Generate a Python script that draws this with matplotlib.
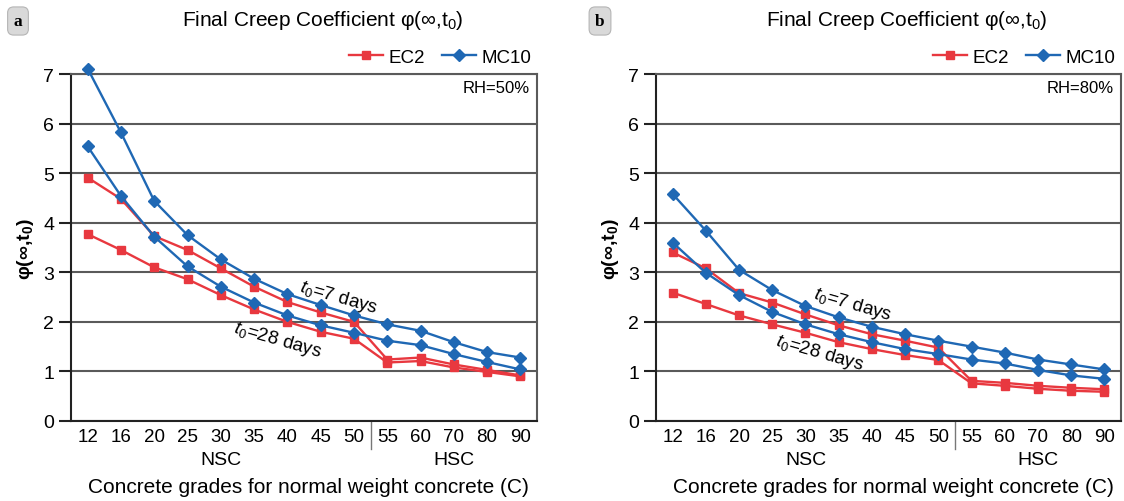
import numpy as np
import matplotlib
matplotlib.use("Agg")
import matplotlib.pyplot as plt

plt.rcParams["font.family"] = ["Liberation Sans", "DejaVu Sans"]
plt.rcParams["mathtext.fontset"] = "custom"
plt.rcParams["mathtext.rm"] = "Liberation Sans"
plt.rcParams["mathtext.it"] = "Liberation Sans:italic"

# Classes de concreto
grades = ["12", "16", "20", "25", "30", "35", "40", "45", "50", "55", "60", "70", "80", "90"]

# RH = 50%
ec2_50_t7 = [4.91, 4.48, 3.73, 3.45, 3.08, 2.71, 2.40, 2.19, 2.00, 1.24, 1.28, 1.14, 1.03, 0.92]
ec2_50_t28 = [3.77, 3.45, 3.10, 2.86, 2.54, 2.25, 2.00, 1.80, 1.66, 1.18, 1.21, 1.08, 0.99, 0.90]
mc10_50_t7 = [7.11, 5.82, 4.44, 3.75, 3.26, 2.87, 2.56, 2.34, 2.13, 1.95, 1.82, 1.59, 1.39, 1.28]
mc10_50_t28 = [5.54, 4.54, 3.72, 3.12, 2.71, 2.39, 2.13, 1.93, 1.78, 1.62, 1.53, 1.35, 1.19, 1.04]

# RH = 80%
ec2_80_t7 = [3.40, 3.08, 2.58, 2.39, 2.15, 1.93, 1.75, 1.62, 1.48, 0.81, 0.77, 0.71, 0.67, 0.64]
ec2_80_t28 = [2.59, 2.36, 2.13, 1.95, 1.78, 1.59, 1.45, 1.33, 1.23, 0.76, 0.71, 0.65, 0.61, 0.59]
mc10_80_t7 = [4.58, 3.84, 3.05, 2.64, 2.32, 2.09, 1.90, 1.75, 1.62, 1.50, 1.38, 1.24, 1.14, 1.04]
mc10_80_t28 = [3.60, 2.99, 2.54, 2.20, 1.95, 1.75, 1.59, 1.45, 1.35, 1.24, 1.16, 1.03, 0.92, 0.85]

RED = "#e8383f"
BLUE = "#1f68b4"
GRID = "#5a5a5a"

fig = plt.figure(figsize=(11.24, 5.02), dpi=100)
ax_a = fig.add_axes([71 / 1124, 80 / 502, 466 / 1124, 347 / 502])
ax_b = fig.add_axes([656 / 1124, 80 / 502, 465 / 1124, 347 / 502])


def painel(ax, ec_t7, ec_t28, mc_t7, mc_t28, rh, pos7, pos28):
    x = np.arange(len(grades))
    estilo_ec = dict(color=RED, lw=1.7, marker="s", ms=6.2, clip_on=False, zorder=3)
    estilo_mc = dict(color=BLUE, lw=1.7, marker="D", ms=6.5, clip_on=False, zorder=4)
    ax.plot(x, ec_t7, label="EC2", **estilo_ec)
    ax.plot(x, ec_t28, **estilo_ec)
    ax.plot(x, mc_t7, label="MC10", **estilo_mc)
    ax.plot(x, mc_t28, **estilo_mc)

    ax.set_xlim(-0.5, len(grades) - 0.5)
    ax.set_ylim(0, 7)
    ax.set_yticks(range(8))
    ax.set_xticks(x)
    ax.set_xticklabels(grades)
    ax.tick_params(axis="x", length=0, labelsize=13.5, pad=5)
    ax.tick_params(axis="y", length=9, width=1.5, labelsize=14, pad=3, color="#222222")
    ax.yaxis.grid(True, color=GRID, lw=1.5)
    ax.set_axisbelow(True)
    for s in ["left", "bottom"]:
        ax.spines[s].set_color("#222222")
        ax.spines[s].set_linewidth(1.5)
    for s in ["top", "right"]:
        ax.spines[s].set_color(GRID)
        ax.spines[s].set_linewidth(1.5)

    # separador NSC / HSC
    ax.plot([8.5, 8.5], [0, -0.08], transform=ax.get_xaxis_transform(),
            color="#777777", lw=1, clip_on=False)
    ax.text(4.0, -0.11, "NSC", transform=ax.get_xaxis_transform(),
            ha="center", va="center", fontsize=14)
    ax.text(11.0, -0.11, "HSC", transform=ax.get_xaxis_transform(),
            ha="center", va="center", fontsize=14)
    ax.text(0.51, -0.19, "Concrete grades for normal weight concrete (C)",
            transform=ax.transAxes, ha="center", va="center", fontsize=15)

    ax.set_ylabel(r"φ(∞,$\mathregular{t_0}$)", fontsize=14, fontweight="bold", labelpad=5)
    ax.text(0.54, 1.158, r"Final Creep Coefficient φ(∞,$\mathregular{t_0}$)",
            transform=ax.transAxes, ha="center", va="center", fontsize=15)
    ax.text(0.985, 0.962, "RH=" + rh, transform=ax.transAxes,
            ha="right", va="center", fontsize=12)

    ax.legend(loc="center right", bbox_to_anchor=(0.988, 1.049), ncol=2, frameon=False,
              fontsize=13.5, handlelength=1.8, handletextpad=0.3, columnspacing=0.9,
              borderpad=0, borderaxespad=0)

    ax.text(pos7[0], pos7[1], r"$t_0$=7 days", rotation=-16, ha="center", va="center",
            fontsize=13.5)
    ax.text(pos28[0], pos28[1], r"$t_0$=28 days", rotation=-16, ha="center", va="center",
            fontsize=13.5)


painel(ax_a, ec2_50_t7, ec2_50_t28, mc10_50_t7, mc10_50_t28, "50%", (7.55, 2.5), (5.7, 1.65))
painel(ax_b, ec2_80_t7, ec2_80_t28, mc10_80_t7, mc10_80_t28, "80%", (5.41, 2.36), (4.42, 1.38))

# etiquetas dos paineis
box = dict(boxstyle="round,pad=0.35", facecolor="#d9d9d9", edgecolor="#b5b5b5", lw=0.8)
fig.text(18 / 1124, 1 - 22 / 502, "a", family="Liberation Serif", fontweight="bold",
         fontsize=12.5, ha="center", va="center", bbox=box)
fig.text(600 / 1124, 1 - 22 / 502, "b", family="Liberation Serif", fontweight="bold",
         fontsize=12.5, ha="center", va="center", bbox=box)

fig.savefig("out.png", dpi=100)
